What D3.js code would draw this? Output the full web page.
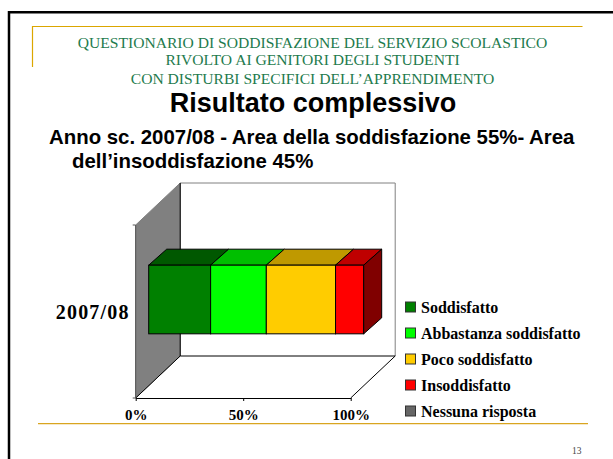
<!DOCTYPE html>
<html>
<head>
<meta charset="utf-8">
<script src="https://cdn.jsdelivr.net/npm/d3@7"></script>
<style>
html, body { margin: 0; padding: 0; background: #fff; }
svg { display: block; }
</style>
</head>
<body>
<script>
var categories = ["2007/08"];
var seriesNames = ["Soddisfatto", "Abbastanza soddisfatto", "Poco soddisfatto", "Insoddisfatto", "Nessuna risposta"];
var seriesValues = [28.8, 25.9, 32.2, 13.1, 0];
var frontColors = ["#008000", "#00ff00", "#ffcc00", "#ff0000", "#808080"];
var topColors = ["#005800", "#00bf00", "#bf9900", "#bf0000", "#606060"];
var sideColors = ["#004000", "#008000", "#806600", "#800000", "#404040"];
var legendColors = ["#008000", "#00ff00", "#ffcc00", "#ff0000", "#666666"];
var xTicks = [0, 50, 100];
var headLines = ["QUESTIONARIO DI SODDISFAZIONE DEL SERVIZIO SCOLASTICO",
    "RIVOLTO AI GENITORI DEGLI STUDENTI",
    "CON DISTURBI SPECIFICI DELL\u2019APPRENDIMENTO"];

var width = 613,
    height = 459,
    serif = "'Liberation Serif', serif",
    sans = "'Liberation Sans', Arial, sans-serif";

var svg = d3.select("body").append("svg")
    .attr("width", width)
    .attr("height", height);

// slide frame
svg.append("path")
    .attr("d", "M9,459V12.2H613")
    .attr("fill", "none")
    .attr("stroke", "#000")
    .attr("stroke-width", 2.5);

svg.append("path")
    .attr("d", "M32.5,67V26.5H582.5")
    .attr("fill", "none")
    .attr("stroke", "#dba600")
    .attr("stroke-width", 1.2);

svg.append("line")
    .attr("x1", 38).attr("x2", 588)
    .attr("y1", 423.7).attr("y2", 423.7)
    .attr("stroke", "#d9a520")
    .attr("stroke-width", 1.2);

// heading
svg.selectAll(".head")
    .data(headLines)
    .enter().append("text")
    .attr("class", "head")
    .attr("x", 312.5)
    .attr("y", function(d, i) { return [47.5, 65, 84][i]; })
    .attr("text-anchor", "middle")
    .attr("font-family", serif)
    .attr("font-size", 15.6)
    .attr("fill", "#1e7b4e")
    .text(function(d) { return d; });

svg.append("text")
    .attr("x", 313).attr("y", 111.5)
    .attr("text-anchor", "middle")
    .attr("font-family", sans)
    .attr("font-weight", "bold")
    .attr("font-size", 27)
    .text("Risultato complessivo");

svg.append("text")
    .attr("x", 49).attr("y", 143.5)
    .attr("font-family", sans)
    .attr("font-weight", "bold")
    .attr("font-size", 20.4)
    .text("Anno sc. 2007/08 - Area della soddisfazione 55%- Area");

svg.append("text")
    .attr("x", 72).attr("y", 167.5)
    .attr("font-family", sans)
    .attr("font-weight", "bold")
    .attr("font-size", 20.4)
    .text("dell\u2019insoddisfazione 45%");

svg.append("text")
    .attr("x", 572).attr("y", 454)
    .attr("font-family", serif)
    .attr("font-size", 9.5)
    .attr("fill", "#444")
    .text("13");

// 3d chart: front plane, wall depth and bar depth
var x = d3.scaleLinear().domain([0, 100]).range([135.7, 350.7]);
var y = d3.scaleBand().domain(categories).range([398, 225]).paddingInner(0).paddingOuter(0.76);
var depthX = 44.5, depthY = 42, barShiftX = 13, barShiftY = 12, barDepthX = 18, barDepthY = 16;

var chart = svg.append("g");
var x0 = x(0), x1 = x(100), yb = y.range()[0], yt = y.range()[1];

chart.append("path")
    .attr("d", d3.line()([[x0 + depthX, yt - depthY], [x1 + depthX, yt - depthY], [x1 + depthX, yb - depthY]]))
    .attr("fill", "none")
    .attr("stroke", "#808080")
    .attr("stroke-width", 1);

chart.append("path")
    .attr("d", d3.line()([[x0, yb], [x0, yt], [x0 + depthX, yt - depthY], [x0 + depthX, yb - depthY]]) + "Z")
    .attr("fill", "#808080")
    .attr("stroke", "#808080");

chart.append("path")
    .attr("d", d3.line()([[x0, yb], [x0 + depthX, yb - depthY], [x1 + depthX, yb - depthY], [x1, yb]]))
    .attr("fill", "none")
    .attr("stroke", "#000");

chart.append("line")
    .attr("x1", x0 + depthX).attr("x2", x0 + depthX)
    .attr("y1", yb - depthY).attr("y2", yt - depthY)
    .attr("stroke", "#000");

// stacked bar
var stack = d3.stack().keys(d3.range(seriesNames.length))(
    categories.map(function() { return seriesValues; })
);
var segments = stack.map(function(s, i) {
    return { i: i, a: x(s[0][0]) + barShiftX, b: x(s[0][1]) + barShiftX, value: seriesValues[i] };
}).filter(function(d) { return d.value > 0; });

var barTop = y(categories[0]) - barShiftY,
    barBottom = barTop + y.bandwidth();

var seg = chart.selectAll(".seg")
    .data(segments)
    .enter().append("g")
    .attr("class", "seg")
    .attr("stroke", "#000")
    .attr("stroke-width", 1);

seg.append("path")
    .attr("fill", function(d) { return topColors[d.i]; })
    .attr("d", function(d) {
        return d3.line()([[d.a, barTop], [d.a + barDepthX, barTop - barDepthY],
            [d.b + barDepthX, barTop - barDepthY], [d.b, barTop]]) + "Z";
    });

seg.append("rect")
    .attr("x", function(d) { return d.a; })
    .attr("y", barTop)
    .attr("width", function(d) { return d.b - d.a; })
    .attr("height", y.bandwidth())
    .attr("fill", function(d) { return frontColors[d.i]; });

var last = segments[segments.length - 1];
chart.append("path")
    .attr("fill", sideColors[last.i])
    .attr("stroke", "#000")
    .attr("d", d3.line()([[last.b, barTop], [last.b + barDepthX, barTop - barDepthY],
        [last.b + barDepthX, barBottom - barDepthY], [last.b, barBottom]]) + "Z");

// axes
var xAxis = chart.append("g")
    .attr("transform", "translate(0," + yb + ")")
    .call(d3.axisBottom(x).tickValues(xTicks).tickFormat(function(d) { return d + "%"; }).tickSize(3).tickSizeOuter(0));
xAxis.select(".domain").attr("stroke", "#000");
xAxis.selectAll("text")
    .attr("y", 11)
    .attr("font-family", serif)
    .attr("font-weight", "bold")
    .attr("font-size", 15)
    .attr("fill", "#000");

var yAxis = chart.append("g")
    .attr("transform", "translate(" + x0 + ",0)")
    .call(d3.axisLeft(y).tickSize(0).tickPadding(6));
yAxis.select(".domain").attr("stroke", "#555").attr("d", "M-3," + yt + "H0V" + yb + "H-3");
yAxis.selectAll("text")
    .attr("y", 1)
    .attr("font-family", serif)
    .attr("font-weight", "bold")
    .attr("font-size", 20)
    .attr("fill", "#000")
    .attr("letter-spacing", 1.2)
    .attr("dy", "0.32em");

// legend
var legendY = d3.scalePoint().domain(seriesNames).range([307, 411]);

var legend = svg.selectAll(".legend")
    .data(seriesNames)
    .enter().append("g")
    .attr("class", "legend")
    .attr("transform", function(d) { return "translate(405.5," + legendY(d) + ")"; });

legend.append("rect")
    .attr("x", 0).attr("y", -5)
    .attr("width", 10).attr("height", 10)
    .attr("fill", function(d, i) { return legendColors[i]; })
    .attr("stroke", "#333");

legend.append("text")
    .attr("x", 15.5).attr("y", 5.5)
    .attr("font-family", serif)
    .attr("font-weight", "bold")
    .attr("font-size", 16)
    .text(function(d) { return d; });
</script>
</body>
</html>
